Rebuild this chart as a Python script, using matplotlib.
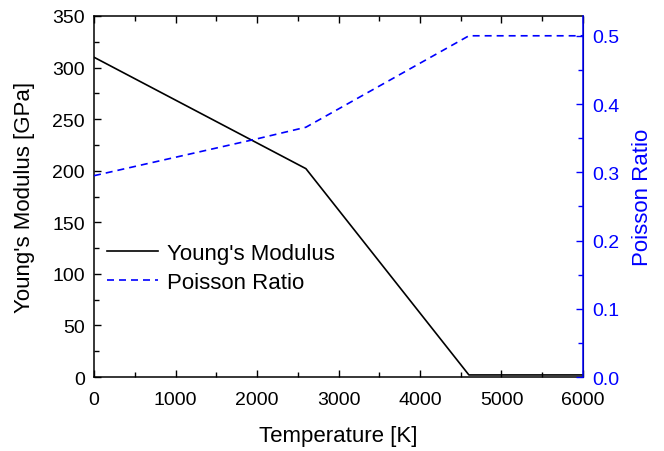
import matplotlib
matplotlib.use("Agg")
import matplotlib.pyplot as plt
from matplotlib.ticker import MultipleLocator

plt.rcParams['font.family'] = ['Liberation Sans', 'DejaVu Sans']

# temperature dependent elastic properties
temp_young = [0, 2600, 4600, 6000]
young = [310, 202, 2, 2]

temp_poisson = [0, 1000, 2000, 2600, 4600, 6000]
poisson = [0.295, 0.322, 0.349, 0.366, 0.5, 0.5]

fig = plt.figure(figsize=(6.64, 4.52), dpi=100)
ax = fig.add_axes([0.1416, 0.1637, 0.7364, 0.7987])
ax2 = ax.twinx()

l1, = ax.plot(temp_young, young, color='black', lw=1.2, label="Young's Modulus")
l2, = ax2.plot(temp_poisson, poisson, color='blue', lw=1.2, ls=(0, (4.2, 3.0)),
               label='Poisson Ratio')

ax.set_xlim(0, 6000)
ax.set_ylim(0, 350)
ax2.set_ylim(0, 0.529)

ax.xaxis.set_major_locator(MultipleLocator(1000))
ax.xaxis.set_minor_locator(MultipleLocator(500))
ax.yaxis.set_major_locator(MultipleLocator(50))
ax.yaxis.set_minor_locator(MultipleLocator(25))
ax2.yaxis.set_major_locator(MultipleLocator(0.1))
ax2.yaxis.set_minor_locator(MultipleLocator(0.05))
ax2.yaxis.set_major_formatter(plt.FormatStrFormatter('%.1f'))

ax.tick_params(which='both', direction='in', top=True, right=False, labelsize=14)
ax.tick_params(which='major', length=5, width=1)
ax.tick_params(which='minor', length=3.5, width=1)
ax.tick_params(axis='x', pad=10)
ax.tick_params(axis='y', pad=6.5)
ax2.tick_params(which='both', direction='in', colors='blue', labelsize=14, pad=7)
ax2.tick_params(which='major', length=5, width=1)
ax2.tick_params(which='minor', length=3.5, width=1)

for sp in ['left', 'bottom', 'top']:
    ax.spines[sp].set_linewidth(1.1)
ax2.spines['right'].set_color('blue')
ax2.spines['right'].set_linewidth(1.1)
ax2.spines['left'].set_visible(False)
ax2.spines['top'].set_visible(False)
ax2.spines['bottom'].set_visible(False)

ax.set_xlabel('Temperature [K]', fontsize=16)
ax.set_ylabel("Young's Modulus [GPa]", fontsize=16)
ax2.set_ylabel('Poisson Ratio', fontsize=16, color='blue')
ax.xaxis.set_label_coords(0.5, -0.132)
ax.yaxis.set_label_coords(-0.12, 0.5)
ax2.yaxis.set_label_coords(1.1, 0.5)

ax.legend(handles=[l1, l2], loc='center left', bbox_to_anchor=(0.027, 0.303),
          frameon=False, fontsize=16, handlelength=2.3, handletextpad=0.4,
          labelspacing=0.35, borderpad=0, borderaxespad=0)

fig.savefig('out.png', dpi=100)
